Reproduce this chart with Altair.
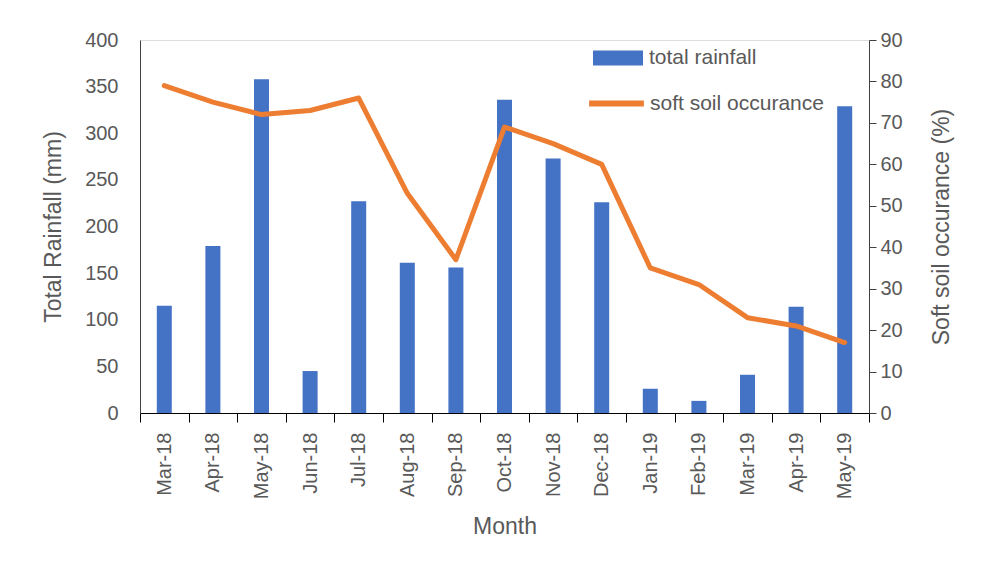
import altair as alt
import pandas as pd

months = ["Mar-18", "Apr-18", "May-18", "Jun-18", "Jul-18", "Aug-18", "Sep-18", "Oct-18",
          "Nov-18", "Dec-18", "Jan-19", "Feb-19", "Mar-19", "Apr-19", "May-19"]
rainfall = [115, 179, 358, 45, 227, 161, 156, 336, 273, 226, 26, 13, 41, 114, 329]
soft_soil = [79, 75, 72, 73, 76, 53, 37, 69, 65, 60, 35, 31, 23, 21, 17]

df = pd.DataFrame({
    "month": months,
    "rainfall": rainfall,
    "soft": soft_soil,
    "s1": ["total rainfall"] * len(months),
    "s2": ["soft soil occurance"] * len(months),
})

FONT = "Liberation Sans"
GRAY = "#595959"

x = alt.X("month:N", sort=months, title="Month",
          scale=alt.Scale(paddingInner=0.0, paddingOuter=0.0),
          axis=alt.Axis(labelAngle=-90, labelFontSize=20, labelColor=GRAY, labelFont=FONT,
                        labelPadding=10, tickBand="extent", tickSize=9, tickColor="#000000",
                        domainColor="#000000", titleFontSize=23, titleColor=GRAY,
                        titleFont=FONT, titleFontWeight="normal", titlePadding=17,
                        labelBaseline="middle"))

bars = alt.Chart(df).mark_bar(size=15).encode(
    x=x,
    y=alt.Y("rainfall:Q", title="Total Rainfall (mm)",
            scale=alt.Scale(domain=[0, 400], nice=False),
            axis=alt.Axis(values=list(range(0, 401, 50)), ticks=False, labelPadding=22,
                          labelFontSize=20, labelColor=GRAY, labelFont=FONT,
                          domainColor="#404040", titleFontSize=23, titleColor=GRAY,
                          titleFont=FONT, titleFontWeight="normal", titlePadding=19,
                          grid=False)),
    color=alt.Color("s1:N", scale=alt.Scale(domain=["total rainfall"], range=["#4472C4"]),
                    legend=alt.Legend(title=None, orient="none", legendX=452, legendY=-8,
                                      symbolType="M-1,-0.3H1V0.3H-1Z", symbolSize=2500,
                                      symbolOpacity=1, labelFontSize=21, labelColor=GRAY,
                                      labelFont=FONT, labelOffset=5, padding=0,
                                      labelLimit=400)),
)

line = alt.Chart(df).mark_line(strokeWidth=5, strokeCap="round", strokeJoin="round").encode(
    x=x,
    y=alt.Y("soft:Q", title="Soft soil occurance (%)",
            scale=alt.Scale(domain=[0, 90], nice=False),
            axis=alt.Axis(orient="right", values=list(range(0, 91, 10)), tickSize=7,
                          tickColor="#404040", labelPadding=4, labelFontSize=20,
                          labelColor=GRAY, labelFont=FONT, domainColor="#404040",
                          titleFontSize=23, titleColor=GRAY, titleFont=FONT,
                          titleFontWeight="normal", titlePadding=51, titleAngle=270,
                          grid=False)),
    stroke=alt.Stroke("s2:N", scale=alt.Scale(domain=["soft soil occurance"], range=["#ED7D31"]),
                      legend=alt.Legend(title=None, orient="none", legendX=446, legendY=33,
                                        symbolType="stroke", symbolSize=3000,
                                        symbolStrokeWidth=6, labelFontSize=21,
                                        labelColor=GRAY, labelFont=FONT, labelOffset=3,
                                        padding=0, labelLimit=400)),
)

chart = alt.layer(bars, line).resolve_scale(
    y="independent", color="independent", stroke="independent"
).properties(
    width=729, height=373,
    autosize=alt.AutoSizeParams(type="none"),
    padding={"left": 132, "top": 32, "right": 120, "bottom": 140},
).configure_view(stroke=None).configure(background="white")

chart.save("out.html", embed_options={"renderer": "svg", "actions": False})
